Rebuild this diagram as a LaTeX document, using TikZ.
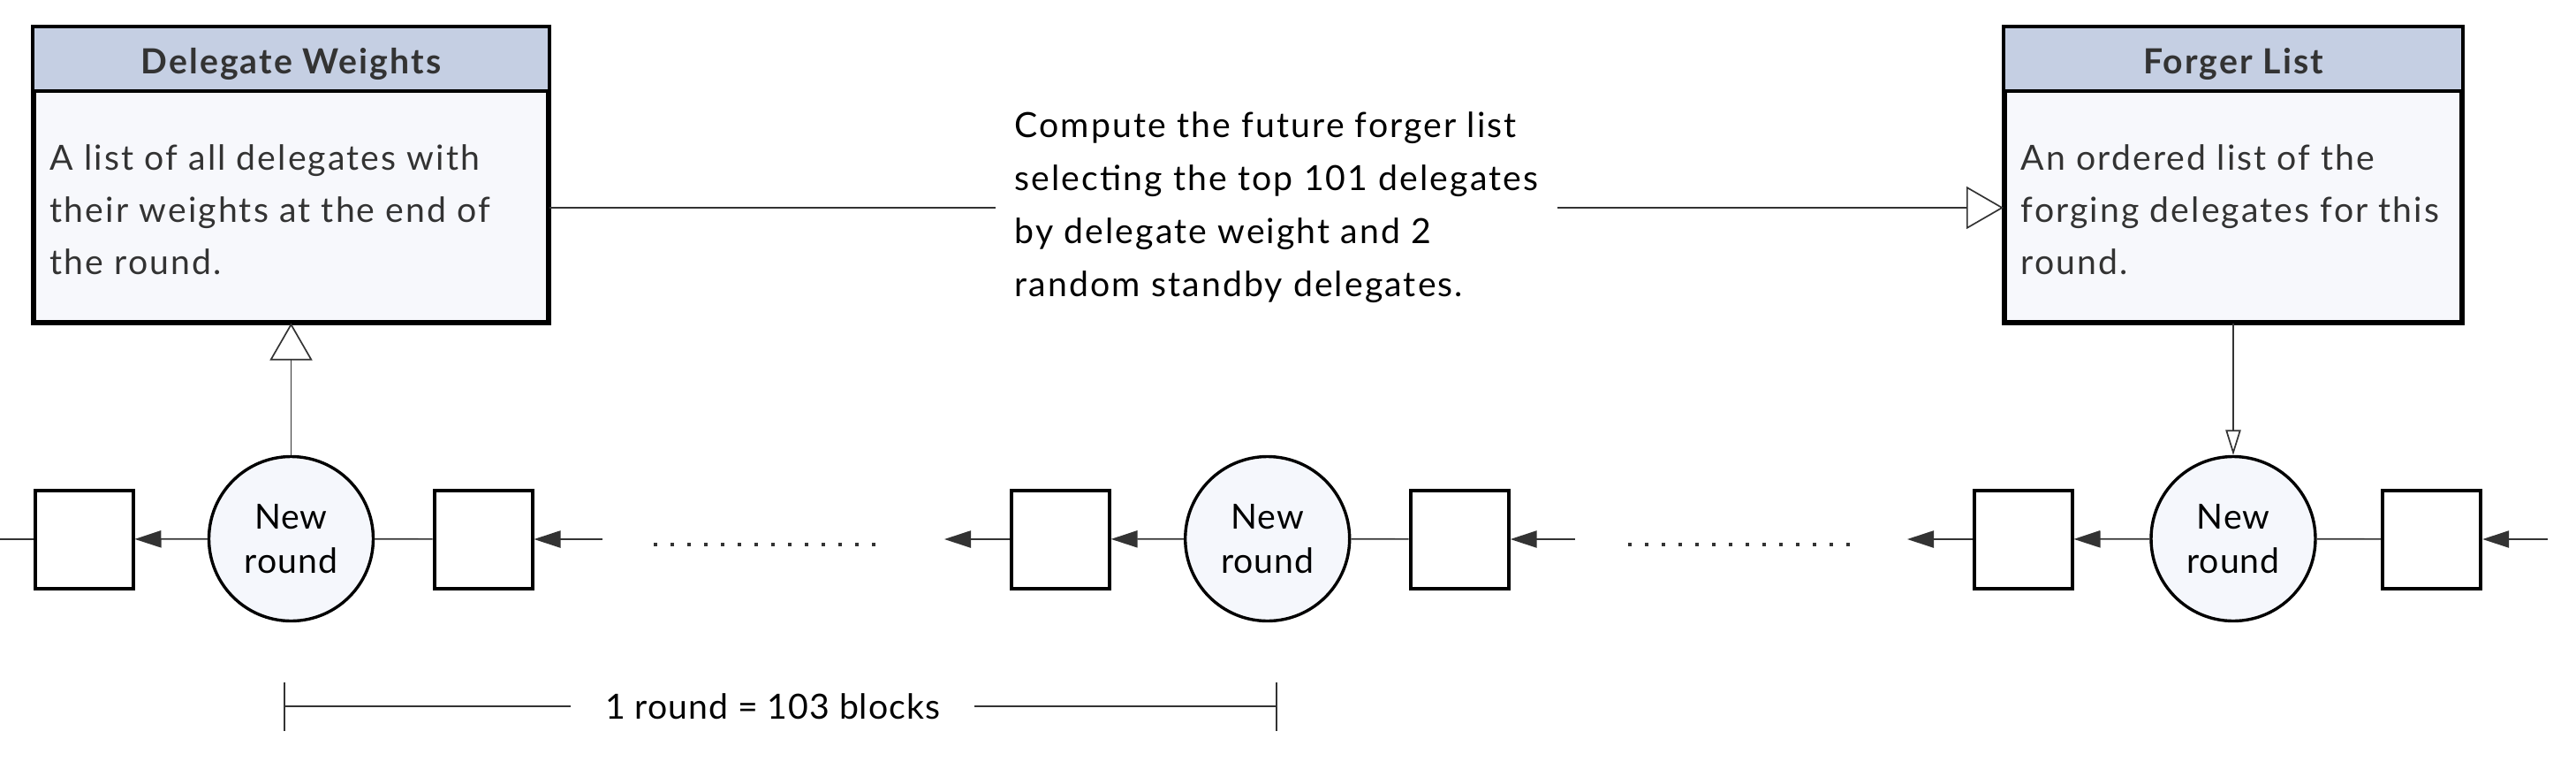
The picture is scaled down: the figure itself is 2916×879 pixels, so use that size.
\documentclass[tikz,border=0pt]{standalone}
\usepackage{fontspec}
\setmainfont{Lato}
\newfontfamily\trackedfont[LetterSpace=5.4]{Lato}
\newfontfamily\lighttrack[LetterSpace=2.5]{Lato}
\usetikzlibrary{arrows.meta,calc}
\definecolor{hdrfill}{HTML}{C5CFE3}
\definecolor{bodyfill}{HTML}{F7F8FC}
\definecolor{circfill}{HTML}{F5F7FC}
\definecolor{ink}{HTML}{333333}
\begin{document}
\begin{tikzpicture}[x=0.25pt,y=-0.25pt,
  box/.style={rectangle, draw=black, line width=1pt, fill=bodyfill, inner sep=0pt, minimum height=83pt},
  blk/.style={rectangle, draw=black, line width=1pt, fill=white, minimum size=27.75pt, inner sep=0pt},
  rnd/.style={circle, draw=black, line width=0.85pt, fill=circfill, minimum size=46.5pt, inner sep=0pt, align=center, text=black, font=\lighttrack\fontsize{9.8}{12.5}\selectfont},
  conn/.style={draw=ink, line width=0.42pt},
  fwd/.style={conn, -{Triangle[length=7.5pt,width=4.8pt]}},
  opentip/.style={conn, -{Triangle[open,length=10.5pt,width=12pt]}},
  thintip/.style={conn, -{Triangle[open,length=7.1pt,width=4.3pt]}},
  hdr/.style={font=\trackedfont\bfseries\fontsize{9.8}{11}\selectfont, text=ink, inner sep=0pt},
  body/.style={font=\trackedfont\fontsize{9.8}{14.75}\selectfont, text=ink, align=left, inner sep=0pt},
  midlabel/.style={fill=white, text=black, align=left, inner xsep=5.5pt, inner ysep=2pt, font=\trackedfont\fontsize{9.8}{15}\selectfont},
  dimlabel/.style={fill=white, text=black, inner xsep=9.75pt, inner ysep=1pt, font=\lighttrack\fontsize{9.8}{11}\selectfont},
  dotline/.style={draw=ink, line width=1pt, dash pattern=on 1pt off 3.75pt},
  tickline/.style={draw=ink, line width=0.33pt}]
\fill[white] (0,0) rectangle (2916,879);
\useasboundingbox (0,0) rectangle (2916,879);

% Delegate Weights box
\node[box, minimum width=145.25pt] (dw) at (329.5,197.5) {};
\fill[hdrfill] (dw.north west) rectangle ($(dw.north east)+(0,73.3)$);
\draw[line width=1pt] ($(dw.north west)+(0,73.3)$) -- ($(dw.north east)+(0,73.3)$);
\draw[line width=1pt] (dw.north west) rectangle (dw.south east);
\node[hdr, anchor=base] (dwt) at (329.5,83.3) {Delegate Weights};
\node[body, anchor=base west] (dwb) at (56,310) {A list of all delegates with\\their weights at the end of\\the round.};

% Forger List box
\node[box, minimum width=129pt] (fl) at (2528,197.5) {};
\fill[hdrfill] (fl.north west) rectangle ($(fl.north east)+(0,73.3)$);
\draw[line width=1pt] ($(fl.north west)+(0,73.3)$) -- ($(fl.north east)+(0,73.3)$);
\draw[line width=1pt] (fl.north west) rectangle (fl.south east);
\node[hdr, anchor=base] (flt) at (2528,83.3) {Forger List};
\node[body, anchor=base west] (flb) at (2287,310) {An ordered list of the\\forging delegates for this\\round.};

% connector with label
\coordinate (ly) at (0,235);
\draw[opentip] (dw.east |- ly) -- node[midlabel, pos=0.5] (mid) {Compute the future forger list\\selecting the top 101 delegates\\by delegate weight and 2\\random standby delegates.} (fl.west |- ly);

% chain
\coordinate (e0) at (0,610);
\node[blk] (b1) at (95,610) {};
\node[rnd] (c1) at (329.5,609.5) {New\\round};
\node[blk] (b2) at (547,610) {};
\coordinate (e1) at (681.7,610);
\coordinate (e2) at (1069,610);
\node[blk] (b3) at (1200.2,610) {};
\node[rnd] (c2) at (1434.7,609.5) {New\\round};
\node[blk] (b4) at (1652.2,610) {};
\coordinate (e3) at (1782.7,610);
\coordinate (e4) at (2159,610);
\node[blk] (b5) at (2290,610) {};
\node[rnd] (c3) at (2528,609.5) {New\\round};
\node[blk] (b6) at (2752.7,610) {};
\coordinate (e5) at (2884,610);

\draw[conn] (e0) -- (b1);
\draw[fwd] (c1) -- (b1);
\draw[conn] (b2) -- (c1);
\draw[fwd] (e1) -- (b2);
\draw[fwd] (b3) -- (e2);
\draw[fwd] (c2) -- (b3);
\draw[conn] (b4) -- (c2);
\draw[fwd] (e3) -- (b4);
\draw[fwd] (b5) -- (e4);
\draw[fwd] (c3) -- (b5);
\draw[conn] (b6) -- (c3);
\draw[fwd] (e5) -- (b6);

% dots
\draw[dotline] (740,616) -- (991,616);
\draw[dotline] (1843,616) -- (2094,616);

% vertical connectors
\draw[opentip] (c1) -- (dw);
\draw[thintip] (fl) -- (c3);

% dimension
\coordinate (dl) at (322,799);
\coordinate (dr) at (1445,799);
\draw[conn] (dl) -- node[dimlabel, pos=0.492] (dim) {1 round = 103 blocks} (dr);
\draw[tickline] ($(dl)+(0,-27.5)$) -- ($(dl)+(0,27.5)$);
\draw[tickline] ($(dr)+(0,-27.5)$) -- ($(dr)+(0,27.5)$);
\end{tikzpicture}
\end{document}
